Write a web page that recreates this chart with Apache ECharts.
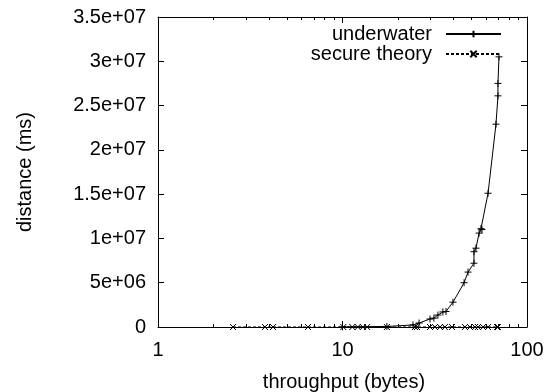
<!DOCTYPE html>
<html>
<head>
<meta charset="utf-8">
<script src="https://cdn.jsdelivr.net/npm/echarts@6/dist/echarts.min.js"></script>
<style>
html, body { margin: 0; padding: 0; background: #fff; }
#wrap { position: relative; width: 556px; height: 392px; }
#chart, #overlay { position: absolute; left: 0; top: 0; width: 556px; height: 392px; }
#overlay { pointer-events: none; }
</style>
</head>
<body>
<div id="wrap">
    <div id="chart"></div>
    <div id="overlay"></div>
</div>
<script>
var underwaterX = [10, 17.4, 24.1, 26.0, 29.8, 31.3, 32.9, 35.0, 36.4, 39.7, 45.6, 47.9, 51.6, 51.6, 52.9, 55.0, 56.3, 57.0, 61.5, 67.9, 69.6, 69.6, 70.5];
var underwaterY = [2e4, 6e4, 2.3e5, 4.5e5, 9e5, 1.0e6, 1.35e6, 1.7e6, 1.75e6, 2.8e6, 5.0e6, 6.2e6, 7.2e6, 8.5e6, 8.9e6, 10.6e6, 11.1e6, 11.0e6, 15.1e6, 22.9e6, 26.1e6, 27.5e6, 30.5e6];
var secureX = [2.55, 3.8, 4.2, 6.5, 10.1, 11.3, 12.1, 12.9, 13.6, 17.4, 24.7, 25.3, 29.8, 31.7, 33.8, 35.9, 39.2, 46.1, 49.1, 52.3, 54.2, 57.8, 61.5, 68.8, 69.6];
var secureY = [0, 0, 0, 0, 0, 0, 0, 0, 0, 0, 0, 0, 0, 0, 0, 0, 0, 0, 0, 0, 0, 0, 0, 0, 0];
var seriesNames = ['underwater', 'secure theory'];
var xTitle = 'throughput (bytes)';
var yTitle = 'distance (ms)';

function zip(xs, ys) {
    var out = [];
    for (var i = 0; i < xs.length; i++) {
        out.push([xs[i], ys[i]]);
    }
    return out;
}

// gnuplot style %g labels: 3.5e+07, 5e+06
function fmtG(v) {
    if (v === 0) return '0';
    var parts = v.toExponential().split('e');
    var exp = parts[1];
    var sign = exp.charAt(0);
    var digits = exp.slice(1);
    if (digits.length < 2) digits = '0' + digits;
    return parts[0] + 'e' + sign + digits;
}

var FONT = 'Liberation Sans';
var CLEAR = 'rgba(0,0,0,0)';
var plusPath = 'path://M0,4L8,4M4,0L4,8';
var crossPath = 'path://M0,0L8,8M8,0L0,8';

function seriesList(withData) {
    return [
        {
            name: seriesNames[0], type: 'line', xAxisIndex: 0, yAxisIndex: 0,
            data: withData ? zip(underwaterX, underwaterY) : [],
            symbol: plusPath, symbolSize: 7, showAllSymbol: true,
            lineStyle: { color: '#000', width: 1 },
            itemStyle: { color: '#000', borderColor: '#000', borderWidth: 1 }
        },
        {
            name: seriesNames[1], type: 'line', xAxisIndex: 0, yAxisIndex: 0,
            data: withData ? zip(secureX, secureY) : [],
            symbol: crossPath, symbolSize: 6, showAllSymbol: true,
            lineStyle: { color: '#000', width: 1, type: [3, 2] },
            itemStyle: { color: '#000', borderColor: '#000', borderWidth: 1 }
        }
    ];
}

// mirror axes keep their labels on but transparent
function logAxis(pos, labelColor) {
    return {
        type: 'log', logBase: 10, min: 1, max: 100, position: pos,
        axisLine: { show: true, onZero: false, lineStyle: { color: '#000', width: 1 } },
        axisTick: { show: true, inside: true, length: 6, lineStyle: { color: '#000', width: 1 } },
        axisLabel: { show: true, margin: 13, color: labelColor, fontFamily: FONT, fontSize: 20 },
        minorTick: { show: true, splitNumber: 9, length: 3, lineStyle: { color: '#000', width: 1 } },
        splitLine: { show: false }
    };
}

function valAxis(pos, labelColor) {
    return {
        type: 'value', min: 0, max: 3.5e7, interval: 5e6, position: pos,
        axisLine: { show: true, onZero: false, lineStyle: { color: '#000', width: 1 } },
        axisTick: { show: true, inside: true, length: 6, lineStyle: { color: '#000', width: 1 } },
        axisLabel: { show: true, margin: 12, color: labelColor, fontFamily: FONT, fontSize: 20, formatter: fmtG },
        splitLine: { show: false }
    };
}

// main plot: axes, frame and data
var chart = echarts.init(document.getElementById('chart'), null, { renderer: 'canvas' });
chart.setOption({
    animation: false,
    backgroundColor: '#fff',
    grid: { left: 158, right: 29, top: 17, bottom: 65, containLabel: false, outerBoundsMode: 'none' },
    xAxis: [logAxis('bottom', '#000'), logAxis('top', CLEAR)],
    yAxis: [valAxis('left', '#000'), valAxis('right', CLEAR)],
    series: seriesList(true)
});

// key and axis titles on a transparent layer above
var overlay = echarts.init(document.getElementById('overlay'), null, { renderer: 'canvas' });
overlay.setOption({
    animation: false,
    backgroundColor: CLEAR,
    grid: { left: 158, right: 29, top: 17, bottom: 65, show: false, outerBoundsMode: 'none' },
    xAxis: { type: 'value', show: false },
    yAxis: { type: 'value', show: false },
    graphic: [
        {
            type: 'text', x: 344, y: 382,
            style: { text: xTitle, fill: '#000', font: '20px "Liberation Sans"', align: 'center', verticalAlign: 'middle' }
        },
        {
            type: 'text', x: 25, y: 172, rotation: Math.PI / 2,
            style: { text: yTitle, fill: '#000', font: '20px "Liberation Sans"', align: 'center', verticalAlign: 'middle' }
        }
    ],
    legend: {
        orient: 'vertical',
        align: 'right',
        right: 49,
        top: 19,
        itemWidth: 55,
        itemHeight: 8,
        itemGap: 0,
        textStyle: { color: '#000', fontFamily: FONT, fontSize: 20, lineHeight: 20, padding: [0, 9, 0, 0] },
        data: seriesNames
    },
    series: seriesList(false)
});
</script>
</body>
</html>
